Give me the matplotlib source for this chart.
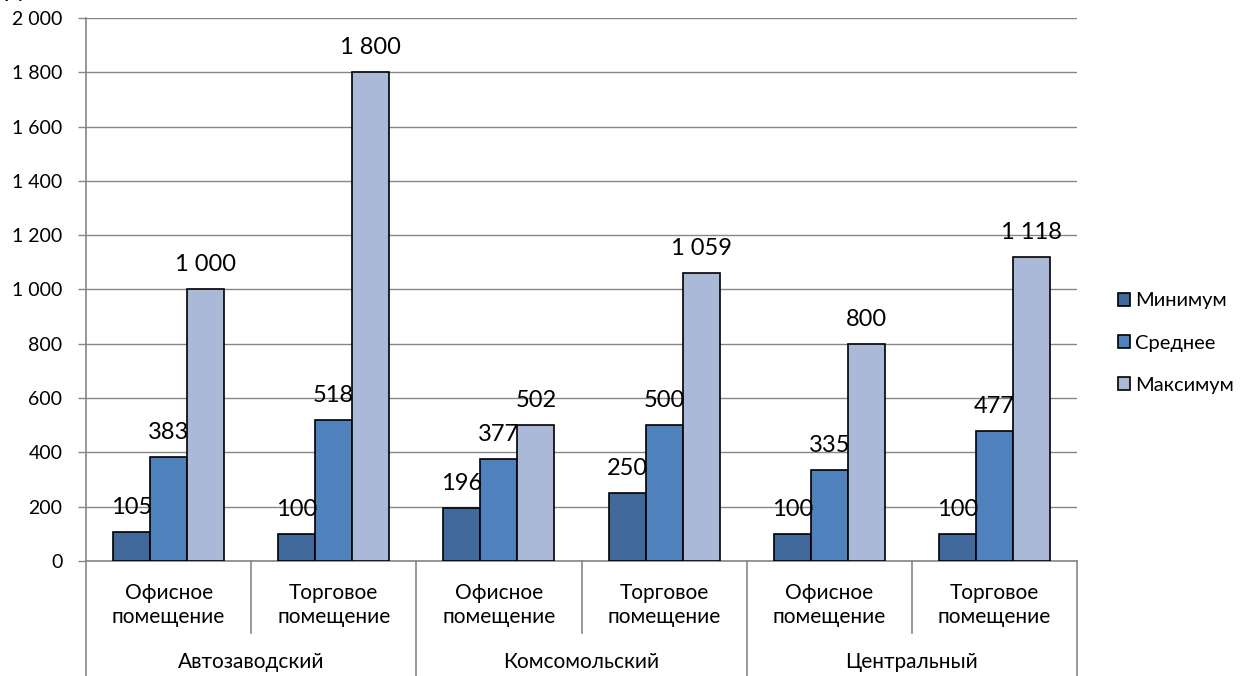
import matplotlib
matplotlib.use("Agg")
import matplotlib.pyplot as plt
import matplotlib.transforms as mtransforms
from matplotlib.patches import Patch
import numpy as np

plt.rcParams['font.family'] = ['Lato', 'DejaVu Sans']

# стоимость аренды, руб. за кв. м
districts = ['Автозаводский', 'Комсомольский', 'Центральный']
premises = ['Офисное\nпомещение', 'Торговое\nпомещение']
series_names = ['Минимум', 'Среднее', 'Максимум']
minimum = [105, 100, 196, 250, 100, 100]
average = [383, 518, 377, 500, 335, 477]
maximum = [1000, 1800, 502, 1059, 800, 1118]
y_ticks = [0, 200, 400, 600, 800, 1000, 1200, 1400, 1600, 1800, 2000]

colors = ['#41699c', '#4f81bd', '#aab9d7']
grid_col = '#868686'


def fmt(v):
    return '{:,}'.format(int(v)).replace(',', ' ')


fig = plt.figure(figsize=(12.42, 6.76), dpi=100)
ax = fig.add_axes([86 / 1242, 1 - 561 / 676, (1077 - 86) / 1242, (561 - 18) / 676])

n = len(minimum)
x = np.arange(n) + 0.5
w = 0.224
for k, vals in enumerate([minimum, average, maximum]):
    pos = x + (k - 1) * w
    ax.bar(pos, vals, width=w, color=colors[k], edgecolor='black', linewidth=1.2, zorder=3)
    for xp, v in zip(pos, vals):
        ax.annotate(fmt(v), (xp, v), xytext=(0, 13), textcoords='offset points',
                    ha='center', va='baseline', fontsize=17, zorder=4)

ax.set_xlim(0, n)
ax.set_ylim(0, 2000)
ax.set_yticks(y_ticks)
ax.set_yticklabels([fmt(t) for t in y_ticks], fontsize=14)
ax.tick_params(axis='y', length=6, color=grid_col, width=1, pad=11)
ax.set_xticks([])
ax.yaxis.grid(True, color=grid_col, linewidth=1, zorder=0)
for side in ['top', 'right']:
    ax.spines[side].set_visible(False)
for side in ['left', 'bottom']:
    ax.spines[side].set_color(grid_col)
    ax.spines[side].set_linewidth(1.2)

# двухуровневая подпись оси категорий
trans = mtransforms.blended_transform_factory(ax.transData, ax.transAxes)
px = 1 / 543
short = -(633 - 561) * px
long_ = -(676 - 561) * px
for i in range(n + 1):
    y_end = long_ if i % 2 == 0 else short
    ax.plot([i, i], [0, y_end], transform=trans, color=grid_col, linewidth=1.2,
            clip_on=False, zorder=1)
for i in range(n):
    ax.text(x[i], -(605 - 561) * px, premises[i % 2], transform=trans, ha='center',
            va='center', fontsize=15, linespacing=1.3)
for j, d in enumerate(districts):
    ax.text(2 * j + 1, -(662 - 561) * px, d, transform=trans, ha='center',
            va='center', fontsize=15)

handles = [Patch(facecolor=c, edgecolor='black', linewidth=1.2) for c in colors]
fig.legend(handles, series_names, loc='center left',
           bbox_to_anchor=(1100 / 1242, 1 - 343 / 676), frameon=False,
           fontsize=14.5, handlelength=0.6, handleheight=0.6, handletextpad=0.25,
           labelspacing=1.25)

fig.text(3 / 1242, 1 + 3 / 676, 'руб.', fontsize=17, va='baseline', ha='left')

fig.savefig('out.png', dpi=100)
